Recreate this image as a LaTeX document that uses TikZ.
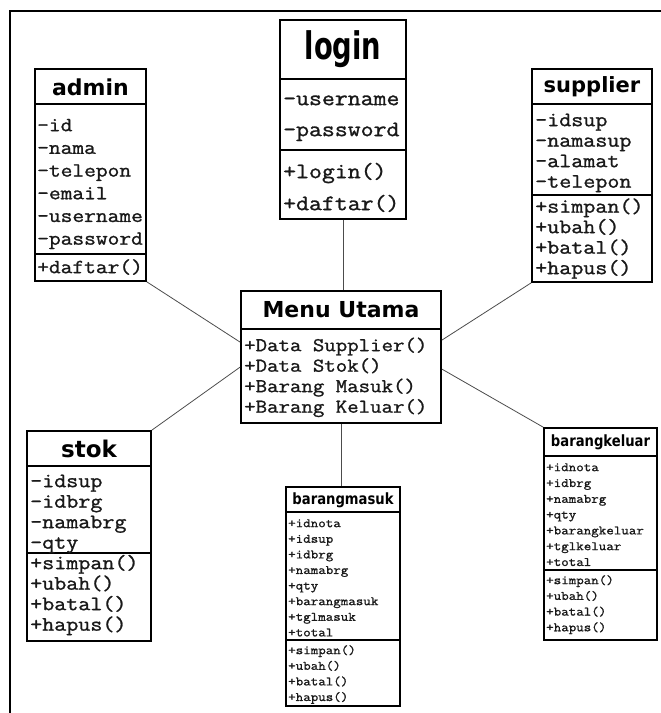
\documentclass[tikz,border=0pt]{standalone}
\usepackage{fontspec}
\setmonofont[FakeStretch=1.14,FakeBold=1.2]{Latin Modern Mono}
\newfontfamily\ttl{DejaVu Sans}
\newfontfamily\ttlc[FakeStretch=0.72]{DejaVu Sans}
\newfontfamily\ttlm[FakeStretch=0.85]{DejaVu Sans}
\usetikzlibrary{fit}
\tikzset{
  classbox/.style={draw=black, line width=1.8pt, fill=white, inner sep=0pt},
  divider/.style={line width=1.5pt},
  conn/.style={draw=black!70, line width=0.8pt},
  mono/.style={font=\ttfamily\fontsize{#1}{#1}\selectfont, anchor=mid west, inner sep=0pt, text=black!90, yshift=-3pt},
  titlebig/.style={font=\ttl\bfseries\fontsize{#1}{#1}\selectfont, inner sep=0pt},
  titlecond/.style={font=\ttlc\bfseries\fontsize{#1}{#1}\selectfont, inner sep=0pt},
  titlemid/.style={font=\ttlm\bfseries\fontsize{#1}{#1}\selectfont, inner sep=0pt},
}
\newcommand\umlbox[5]{\node[classbox, fit={(#2,#3) (#4,#5)}] (#1) {};}
\newcommand\umldiv[2]{\draw[divider] (#1.west |- 0,#2) -- (#1.east |- 0,#2);}
\newcommand\umllines[6]{%
  \foreach \t [count=\i from 0] in {#6} \node[mono=#5] (#1\i) at (#2,{#3+#4*\i}) {\t};}
\begin{document}
\begin{tikzpicture}[x=1pt,y=-1pt]
\useasboundingbox (0,0) rectangle (661,713);
\fill[white] (0,0) rectangle (661,713);
% frame
\draw[line width=2pt] (10,713) -- (10,11) -- (661,11);

% login
\umlbox{login}{280}{20}{406}{219}
\umldiv{login}{79}
\umldiv{login}{150}
\node[titlecond=38] (login-t) at (343,49) {login};
\umllines{login-a}{283}{100}{31}{22}{-username,-password}
\umllines{login-m}{283}{173}{32}{22}{+login(),+daftar()}

% admin
\umlbox{admin}{35}{69}{146}{281}
\umldiv{admin}{104}
\umldiv{admin}{254}
\node[titlebig=22] (admin-t) at (90.5,87) {admin};
\umllines{admin-a}{37}{126}{22.7}{20}{-id,-nama,-telepon,-email,-username,-password}
\umllines{admin-m}{37}{268}{20}{20}{+daftar()}

% supplier
\umlbox{supplier}{532}{69}{652}{282}
\umldiv{supplier}{104}
\umldiv{supplier}{195}
\node[titlebig=21] (supplier-t) at (592,87) {supplier};
\umllines{supplier-a}{535}{121}{20.5}{20.5}{-idsup,-namasup,-alamat,-telepon}
\umllines{supplier-m}{535}{207.5}{20.5}{20.5}{+simpan(),+ubah(),+batal(),+hapus()}

% menu utama
\umlbox{menu}{241}{291}{441}{423}
\umldiv{menu}{329}
\node[titlebig=22] (menu-t) at (341,310) {Menu Utama};
\umllines{menu-m}{244}{346}{20.5}{19.5}{+Data Supplier(),+Data Stok(),+Barang Masuk(),+Barang Keluar()}

% stok
\umlbox{stok}{27}{431}{151}{641}
\umldiv{stok}{466}
\umldiv{stok}{553}
\node[titlebig=23] (stok-t) at (89,449) {stok};
\umllines{stok-a}{30}{482}{20.5}{20.5}{-idsup,-idbrg,-namabrg,-qty}
\umllines{stok-m}{30}{564}{20.5}{20.5}{+simpan(),+ubah(),+batal(),+hapus()}

% barangmasuk
\umlbox{bm}{286}{487}{400}{706}
\umldiv{bm}{512}
\umldiv{bm}{640}
\node[titlemid=15.5] (bm-t) at (343,500) {barangmasuk};
\umllines{bm-a}{288}{522}{15.6}{12.8}{+idnota,+idsup,+idbrg,+namabrg,+qty,+barangmasuk,+tglmasuk,+total}
\umllines{bm-m}{288}{649}{15.6}{12.8}{+simpan(),+ubah(),+batal(),+hapus()}

% barangkeluar
\umlbox{bk}{544}{428}{657}{640}
\umldiv{bk}{456}
\umldiv{bk}{570}
\node[titlemid=15.5] (bk-t) at (600.5,442) {barangkeluar};
\umllines{bk-a}{546}{466}{15.8}{12.8}{+idnota,+idbrg,+namabrg,+qty,+barangkeluar,+tglkeluar,+total}
\umllines{bk-m}{546}{579}{15.7}{12.8}{+simpan(),+ubah(),+batal(),+hapus()}

% connectors
\draw[conn] (login.south) -- (login.south |- menu.north);
\draw[conn] (admin.south east) -- ([yshift=-52pt]menu.north west);
\draw[conn] (supplier.south west) -- ([yshift=-50pt]menu.north east);
\draw[conn] (stok.north east) -- ([yshift=-77pt]menu.north west);
\draw[conn] (menu.south) -- (menu.south |- bm.north);
\draw[conn] ([yshift=-79pt]menu.north east) -- (bk.north west);
\end{tikzpicture}
\end{document}
